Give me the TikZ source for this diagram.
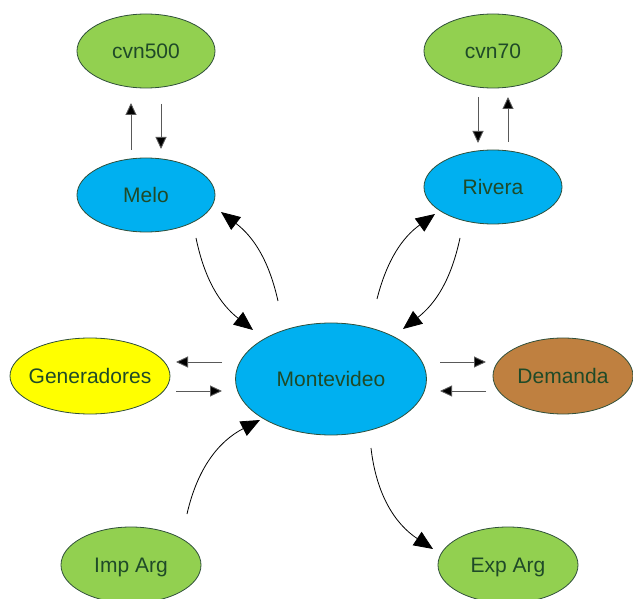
\documentclass[tikz,border=0pt]{standalone}
\usepackage{fontspec}
\setmainfont{Liberation Sans}
\usetikzlibrary{shapes.geometric,arrows.meta,calc}
\definecolor{grn}{HTML}{92D050}
\definecolor{blu}{HTML}{00B0F0}
\definecolor{yel}{HTML}{FFFF00}
\definecolor{brn}{HTML}{BF8040}
\definecolor{txt}{HTML}{1F4A28}
\definecolor{edge}{HTML}{2F4F3A}
\begin{document}
\begin{tikzpicture}[x=1pt,y=-1pt,
  el/.style={ellipse,draw=edge,line width=0.8pt,inner sep=0pt,text=txt,text depth=0pt,
    font=\fontsize{21}{23}\selectfont,minimum width=138pt,minimum height=74pt},
  sarr/.style={draw=black!65,line width=0.9pt,-{Triangle[length=12pt,width=11pt,fill=black]}},
  carr/.style={draw=black,line width=0.8pt,-{Triangle[length=19pt,width=16pt]}}]
\useasboundingbox (0,0) rectangle (633,599);
\node[el,fill=grn] (cvn500) at (146,51) {cvn500};
\node[el,fill=grn] (cvn70) at (493,51) {cvn70};
\node[el,fill=blu] (melo) at (146,195) {Melo};
\node[el,fill=blu] (rivera) at (493,187) {Rivera};
\node[el,fill=blu,minimum width=191pt,minimum height=112pt] (monte) at (331,379) {Montevideo};
\node[el,fill=yel,inner xsep=-12pt,minimum width=160pt,minimum height=76pt] (gen) at (90,376) {Generadores};
\node[el,fill=brn,minimum width=140pt,minimum height=76pt] (dem) at (563,376) {Demanda};
\node[el,fill=grn,minimum width=140pt,minimum height=76pt] (imp) at (131,565) {Imp Arg};
\node[el,fill=grn,minimum width=140pt,minimum height=76pt] (exp) at (508,565) {Exp Arg};
% vertical arrows
\draw[sarr] ($(melo)+(-15,-45)$) -- ($(cvn500)+(-15,52)$);
\draw[sarr] ($(cvn500)+(15,53)$) -- ($(melo)+(15,-46)$);
\draw[sarr] ($(cvn70)+(-15,46)$) -- ($(rivera)+(-15,-44)$);
\draw[sarr] ($(rivera)+(15,-45)$) -- ($(cvn70)+(15,46)$);
% horizontal arrows
\draw[sarr] ($(monte)+(-109,-17)$) -- ($(gen)+(86,-14)$);
\draw[sarr] ($(gen)+(86,15)$) -- ($(monte)+(-109,12)$);
\draw[sarr] ($(monte)+(109,-17)$) -- ($(dem)+(-77,-14)$);
\draw[sarr] ($(dem)+(-77,15)$) -- ($(monte)+(109,12)$);
% curved arrows
\draw[carr] ($(melo)+(50,43)$) to[bend right=20] ($(monte)+(-78,-49)$);
\draw[carr] ($(monte)+(-53,-78)$) to[bend right=20] ($(melo)+(75,17)$);
\draw[carr] ($(rivera)+(-33,51)$) to[bend left=20] ($(monte)+(72,-50)$);
\draw[carr] ($(monte)+(46,-80)$) to[bend left=20] ($(rivera)+(-58,27)$);
\draw[carr] ($(imp)+(56,-51)$) to[bend left=25] ($(monte)+(-71,41)$);
\draw[carr] ($(monte)+(40,69)$) to[bend right=25] ($(exp)+(-75,-16)$);
\end{tikzpicture}
\end{document}
